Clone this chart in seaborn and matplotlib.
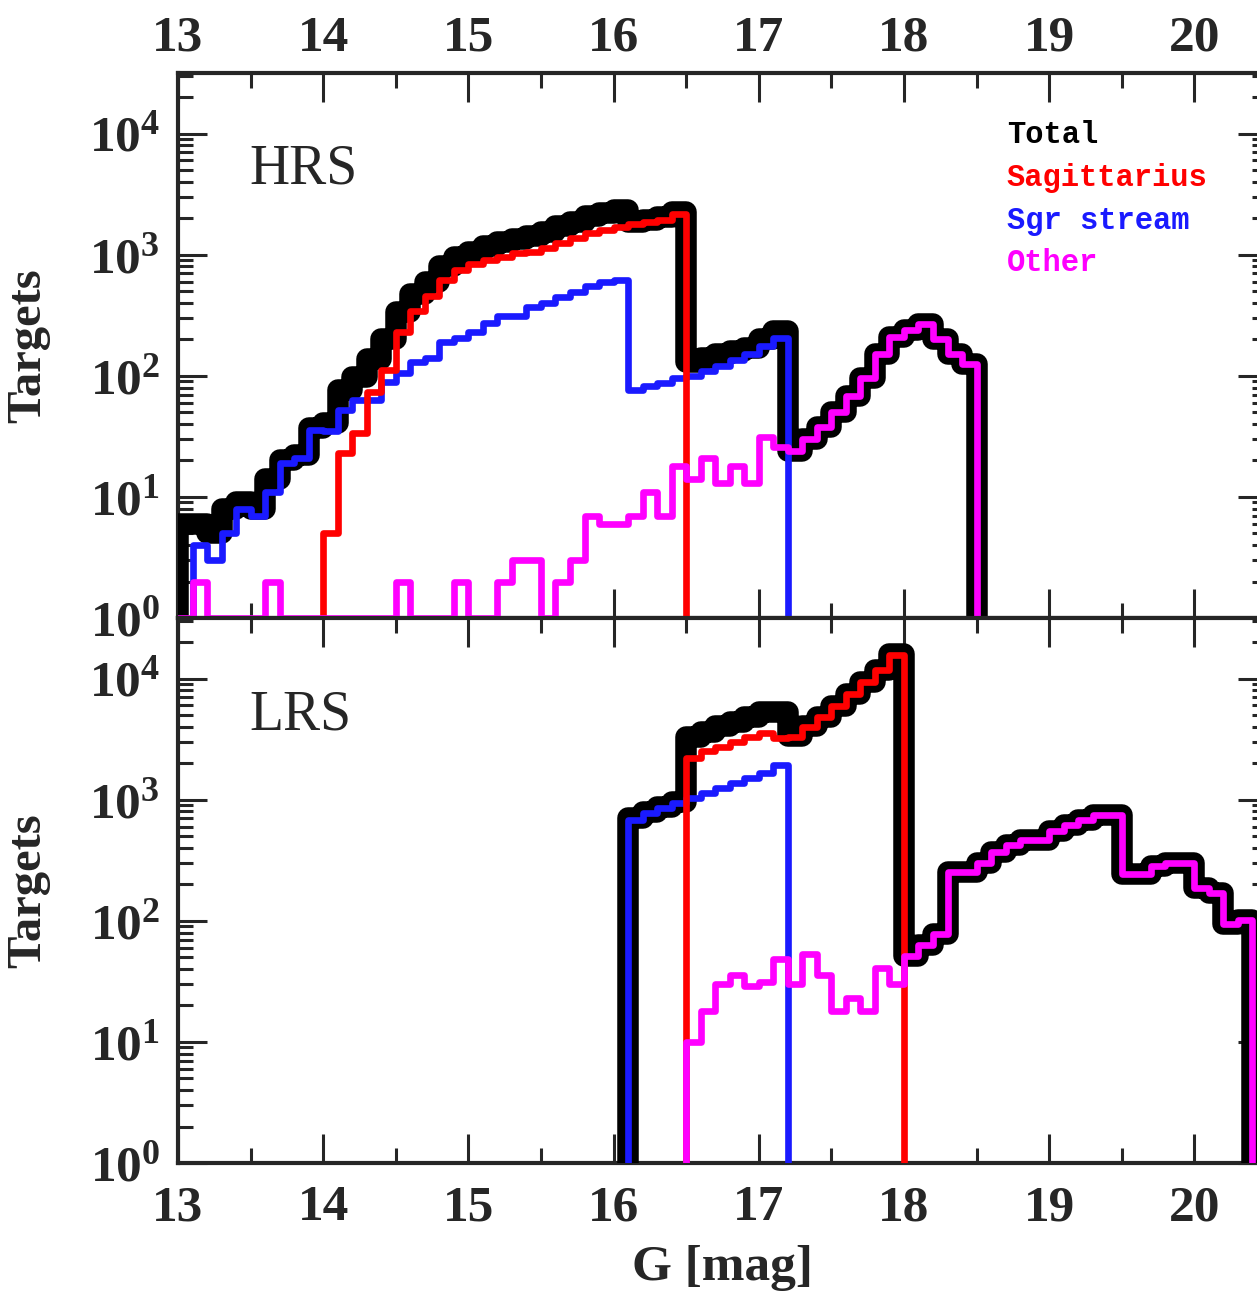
import numpy as np
import pandas as pd
import seaborn as sns
import matplotlib
matplotlib.use("Agg")
import matplotlib.pyplot as plt
from matplotlib import ticker

# counts per 0.1 mag bin, first bin starts at *_start
# HRS
hrs_total_start = 13.0
hrs_total = [6, 6, 5, 8, 9, 8, 14, 20, 22, 37,
             41, 76, 98, 138, 202, 337, 470, 600, 810, 957,
             1060, 1185, 1272, 1343, 1423, 1541, 1712, 1873, 2077, 2216,
             2326, 1860, 1940, 2050, 2260, 130, 140, 150, 160, 170,
             200, 235, 24, 30, 38, 50, 68, 95, 150, 210,
             240, 270, 200, 150, 125]
hrs_sgr_start = 14.0
hrs_sgr = [5, 23, 34, 74, 112, 230, 340, 460, 620, 750,
           830, 910, 960, 1030, 1050, 1140, 1260, 1380, 1520, 1610,
           1700, 1780, 1850, 1950, 2150]
hrs_stream_start = 13.1
hrs_stream = [4, 3, 5, 8, 7, 11, 19, 21, 36,
              35, 52, 63, 63, 89, 105, 130, 140, 190, 205,
              230, 275, 310, 310, 370, 400, 450, 490, 550, 600,
              620, 76, 82, 88, 95, 100, 110, 120, 135, 150,
              175, 205]
hrs_other_start = 13.0
hrs_other = [1, 2, 1, 1, 1, 1, 2, 1, 1, 1,
             1, 1, 1, 1, 1, 2, 1, 1, 1, 2,
             1, 1, 2, 3, 3, 1, 2, 3, 7, 6,
             6, 7, 11, 7, 18, 14, 21, 13, 18, 13,
             31, 26, 24, 30, 38, 50, 68, 95, 150, 210,
             240, 270, 200, 150, 125]

# LRS
lrs_total_start = 16.1
lrs_total = [700, 790, 870, 950,
             3300, 3650, 4050, 4400, 4850, 5250, 5250, 3350, 4050, 4850,
             5900, 7400, 9300, 11850, 15850,
             51, 63, 78, 253, 253, 300, 370, 425, 466, 466,
             550, 620, 680, 750, 750, 245, 245, 285, 300, 300,
             187, 170, 95, 102]
lrs_sgr_start = 16.5
lrs_sgr = [2230, 2500, 2740, 3000, 3300, 3560, 3250, 3300, 4000, 4800,
           5900, 7400, 9300, 11800, 15800]
lrs_stream_start = 16.1
lrs_stream = [680, 780, 860, 940, 1040, 1140, 1260, 1380, 1520, 1670, 1950]
lrs_other_start = 16.5
lrs_other = [10, 18, 30, 36, 29, 31, 48, 30, 53, 36,
             18, 23, 18, 41, 30,
             51, 63, 78, 253, 253, 300, 370, 425, 466, 466,
             550, 620, 680, 750, 750, 245, 245, 285, 300, 300,
             187, 170, 95, 102]

labels = ["Total", "Sagittarius", "Sgr stream", "Other"]
colors = ["black", "#ff0000", "#1a1aff", "#ff00ff"]
FLOOR = 0.3  # below the axis, so the ends drop out of the frame


def outline(start, counts, width=0.1):
    n = len(counts)
    edges = np.round(start + width * np.arange(n + 1), 2)
    x = np.r_[edges[0], edges, edges[-1]]
    y = np.r_[FLOOR, counts, counts[-1], FLOOR]
    return pd.DataFrame({"G": x, "N": y})


sns.set_theme(style="ticks")
plt.rcParams.update({
    "font.family": ["Liberation Serif", "DejaVu Serif"],
    "font.weight": "bold",
    "mathtext.fontset": "custom",
    "mathtext.rm": "Liberation Serif",
    "mathtext.bf": "Liberation Serif:bold",
    "axes.linewidth": 3,
})

fig = plt.figure(figsize=(12.57, 12.94), dpi=100)
ax_top = fig.add_axes([0.1416, 0.5224, 0.8663, 0.4212])
ax_bot = fig.add_axes([0.1416, 0.1012, 0.8663, 0.4212])

panels = [
    (ax_top, "HRS", [(hrs_total_start, hrs_total), (hrs_stream_start, hrs_stream),
                     (hrs_sgr_start, hrs_sgr), (hrs_other_start, hrs_other)]),
    (ax_bot, "LRS", [(lrs_total_start, lrs_total), (lrs_stream_start, lrs_stream),
                     (lrs_sgr_start, lrs_sgr), (lrs_other_start, lrs_other)]),
]
# drawing order: total, stream, sagittarius, other
order_colors = [colors[0], colors[2], colors[1], colors[3]]
order_lw = [15.5, 4.8, 4.8, 4.8]

for ax, name, series in panels:
    for (start, counts), c, lw in zip(series, order_colors, order_lw):
        df = outline(start, counts)
        sns.lineplot(data=df, x="G", y="N", ax=ax, color=c, lw=lw,
                     drawstyle="steps-post", estimator=None, sort=False,
                     solid_joinstyle="round", solid_capstyle="round")
    ax.set_yscale("log")
    ax.set_xlim(13, 20.5)
    ax.set_ylim(1, 10 ** 4.5)
    ax.xaxis.set_major_locator(ticker.MultipleLocator(1))
    ax.xaxis.set_minor_locator(ticker.MultipleLocator(0.5))
    ax.yaxis.set_major_locator(ticker.LogLocator(base=10, numticks=10))
    ax.yaxis.set_minor_locator(ticker.LogLocator(base=10, subs=np.arange(2, 10), numticks=20))
    ax.yaxis.set_major_formatter(ticker.FuncFormatter(
        lambda v, _: r"$\mathbf{10^{%d}}$" % int(round(np.log10(v)))))
    ax.yaxis.set_minor_formatter(ticker.NullFormatter())
    ax.tick_params(which="both", direction="in", top=True, right=True,
                   width=2.2, labelsize=37, pad=16)
    ax.tick_params(axis="y", pad=13)
    ax.tick_params(which="major", length=21)
    ax.tick_params(which="minor", length=10.5)
    for sp in ax.spines.values():
        sp.set_linewidth(3)
        sp.set_zorder(1)
    ax.set_ylabel("Targets", fontsize=35, fontweight="bold")
    ax.yaxis.set_label_coords(-0.117, 0.5)
    ax.text(0.066, 0.822, name, transform=ax.transAxes, fontsize=40,
            fontweight="normal", va="center", ha="left")

ax_top.tick_params(axis="x", labeltop=True, labelbottom=False, pad=8)
ax_top.set_xlabel("")
ax_bot.set_xlabel("G [mag]", fontsize=37, fontweight="bold")
ax_bot.xaxis.set_label_coords(0.5, -0.15)

for i, (lab, c) in enumerate(zip(labels, colors)):
    ax_top.text(0.761, 0.886 - 0.0785 * i, lab, transform=ax_top.transAxes,
                color=c, fontsize=22, fontweight="bold",
                family=["Liberation Mono", "DejaVu Sans Mono"],
                va="center", ha="left")

fig.savefig("out.png", dpi=100)
